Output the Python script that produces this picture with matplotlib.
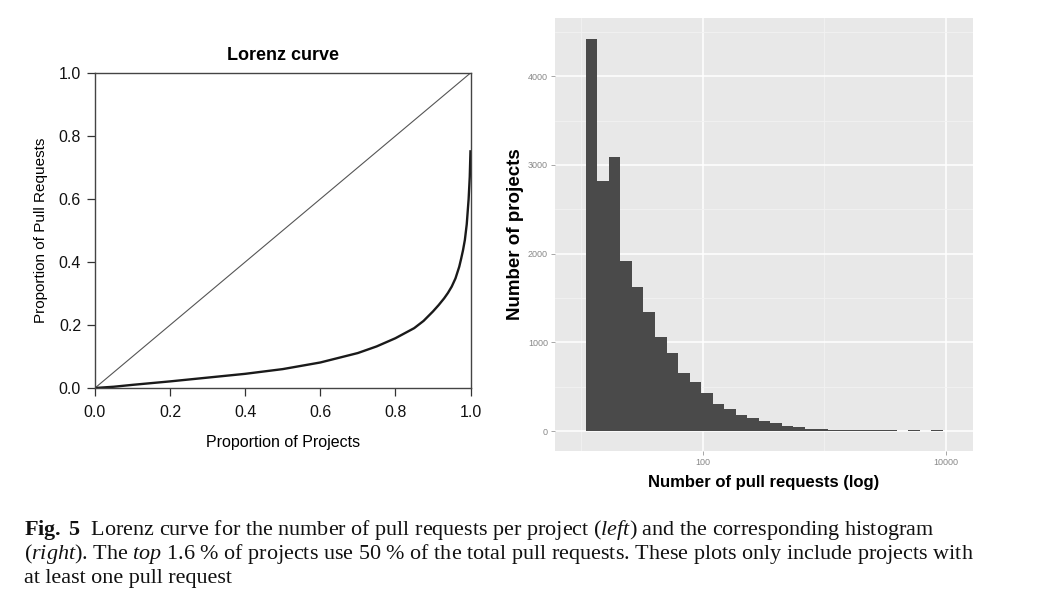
import numpy as np
import matplotlib
matplotlib.use('Agg')
import matplotlib.pyplot as plt
from matplotlib.ticker import FixedLocator, MultipleLocator, NullFormatter

plt.rcParams['font.family'] = ['Liberation Sans', 'DejaVu Sans']
plt.rcParams['mathtext.fontset'] = 'custom'
plt.rcParams['mathtext.rm'] = 'Liberation Serif'
plt.rcParams['mathtext.it'] = 'Liberation Serif:italic'
plt.rcParams['mathtext.bf'] = 'Liberation Serif:bold'

# Lorenz curve
lorenz_x = [0.0, 0.05, 0.1, 0.2, 0.3, 0.4, 0.5, 0.6, 0.7, 0.75, 0.8, 0.85,
            0.875, 0.9, 0.915, 0.93, 0.94, 0.95, 0.96, 0.97, 0.975, 0.98,
            0.985, 0.99, 0.995, 0.998, 1.0]
lorenz_y = [0.0, 0.004, 0.010, 0.021, 0.033, 0.045, 0.060, 0.081, 0.111,
            0.132, 0.158, 0.190, 0.213, 0.243, 0.263, 0.285, 0.302, 0.322,
            0.348, 0.385, 0.41, 0.437, 0.47, 0.52, 0.60, 0.67, 0.755]
lorenz_ticks = [0.0, 0.2, 0.4, 0.6, 0.8, 1.0]

# histogram, bins in log10(pull requests)
bin_start = 1.041
bin_width = 0.0946
counts = [4420, 2815, 3090, 1920, 1625, 1340, 1060, 880, 655, 550, 430, 305,
          250, 180, 145, 110, 85, 58, 45, 28, 20, 16, 14, 12, 10, 10, 9, 0,
          9, 0, 9]
hist_yticks = [0, 1000, 2000, 3000, 4000]
hist_xticks = [100, 10000]

fig = plt.figure(figsize=(10.38, 6.04), dpi=100)

# ---- left: Lorenz curve
ax1 = fig.add_axes([95 / 1038, 1 - 388 / 604, 375.5 / 1038, 315 / 604])
ax1.plot([0, 1], [0, 1], color='#555555', lw=0.8)
ax1.plot(lorenz_x, lorenz_y, color='#1a1a1a', lw=1.7, solid_capstyle='butt')
ax1.set_xlim(0, 1)
ax1.set_ylim(0, 1)
ax1.set_xticks(lorenz_ticks)
ax1.set_yticks(lorenz_ticks)
ax1.set_xticklabels(['%.1f' % t for t in lorenz_ticks])
ax1.set_yticklabels(['%.1f' % t for t in lorenz_ticks])
ax1.tick_params(direction='out', length=6, width=0.9, color='#333333',
                labelsize=11.5, labelcolor='#111111', pad=4)
ax1.tick_params(axis='x', pad=6)
for s in ax1.spines.values():
    s.set_color('#444444')
    s.set_linewidth(1.0)
ax1.set_title('Lorenz curve', fontsize=13, fontweight='bold', pad=9)
ax1.set_xlabel('Proportion of Projects', fontsize=11.5, labelpad=11)
ax1.set_ylabel('Proportion of Pull Requests', fontsize=11, labelpad=8)

# ---- right: histogram
ax2 = fig.add_axes([555 / 1038, 1 - 451 / 604, 418 / 1038, 433 / 604])
ax2.set_facecolor('#e8e8e8')
edges = 10 ** (bin_start + bin_width * np.arange(len(counts) + 1))
ax2.stairs(counts, edges, fill=True, color='#4a4a4a', zorder=3)
ax2.set_xscale('log')
ax2.set_xlim(10 ** 0.787, 10 ** 4.221)
ax2.set_ylim(-225, 4656)
ax2.xaxis.set_major_locator(FixedLocator(hist_xticks))
ax2.xaxis.set_minor_locator(FixedLocator([10, 1000]))
ax2.xaxis.set_minor_formatter(NullFormatter())
ax2.set_xticklabels([str(t) for t in hist_xticks])
ax2.yaxis.set_major_locator(FixedLocator(hist_yticks))
ax2.yaxis.set_minor_locator(MultipleLocator(500))
ax2.grid(which='major', color='white', lw=1.1, zorder=1)
ax2.grid(which='minor', color='#f2f2f2', lw=0.6, zorder=1)
ax2.set_axisbelow(True)
ax2.tick_params(which='major', direction='out', length=3, width=0.6,
                color='#999999', labelsize=6.5, labelcolor='#888888', pad=2)
ax2.tick_params(which='minor', length=0)
for s in ax2.spines.values():
    s.set_visible(False)
ax2.set_xlabel('Number of pull requests (log)', fontsize=12, fontweight='bold',
               labelpad=6)
ax2.set_ylabel('Number of projects', fontsize=13.5, fontweight='bold', labelpad=3)

# ---- caption
cap_lines = [
    r'$\mathbf{Fig.\ 5}$  Lorenz curve for the number of pull requests per project ($\mathit{left}$) and the corresponding histogram',
    r'($\mathit{right}$). The $\mathit{top}$ 1.6 % of projects use 50 % of the total pull requests. These plots only include projects with',
    'at least one pull request',
]
for i, line in enumerate(cap_lines):
    fig.text(24 / 1038, 1 - (535 + 24 * i) / 604, line, family='Liberation Serif',
             fontsize=15.9, va='baseline', ha='left', color='#111111')

fig.savefig('out.png', dpi=100)
